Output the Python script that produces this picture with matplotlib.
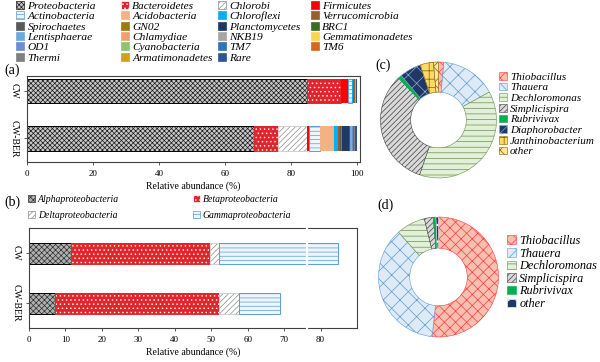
import matplotlib
matplotlib.use('Agg')
import matplotlib.pyplot as plt
from matplotlib.patches import Patch
import numpy as np

plt.rcParams['font.family'] = ['Liberation Serif', 'DejaVu Serif']
plt.rcParams['hatch.linewidth'] = 0.5

# ---- data ----
samples = ['CW', 'CW-BER']

phyla = ['Proteobacteria', 'Bacteroidetes', 'Chlorobi', 'Firmicutes',
         'Actinobacteria', 'Acidobacteria', 'Chloroflexi', 'Verrucomicrobia',
         'Spirochaetes', 'GN02', 'Planctomycetes', 'BRC1',
         'Lentisphaerae', 'Chlamydiae', 'NKB19', 'Gemmatimonadetes',
         'OD1', 'Cyanobacteria', 'TM7', 'TM6',
         'Thermi', 'Armatimonadetes', 'Rare']
phyla_cw = [84.8, 10.3, 0.2, 2.0, 1.3, 0.1, 0.1, 0.6,
            0.05, 0.02, 0.1, 0.02, 0.02, 0.02, 0.02, 0.02,
            0.02, 0.02, 0.02, 0.02, 0.02, 0.02, 0.21]
phyla_ber = [69.0, 7.0, 8.8, 0.6, 3.4, 4.2, 1.2, 0.8,
             0.3, 0.2, 2.2, 0.2, 0.3, 0.1, 0.3, 0.1,
             0.2, 0.1, 0.2, 0.1, 0.1, 0.1, 0.5]

classes = ['Alphaproteobacteria', 'Betaproteobacteria',
           'Deltaproteobacteria', 'Gammaproteobacteria']
classes_cw = [11.4, 38.4, 2.3, 32.8]
classes_ber = [7.1, 44.9, 5.5, 11.5]

genera_c = ['Thiobacillus', 'Thauera', 'Dechloromonas', 'Simplicispira',
            'Rubrivivax', 'Diaphorobacter', 'Janthinobacterium', 'other']
share_c = [1.5, 15.5, 38.3, 32.6, 1.0, 6.0, 3.7, 1.4]

genera_d = ['Thiobacillus', 'Thauera', 'Dechloromonas', 'Simplicispira',
            'Rubrivivax', 'other']
share_d = [51.7, 36.7, 7.8, 2.4, 0.7, 0.7]

# ---- styles: (face, hatch, hatch colour, edge colour) ----
st_phyla = {
    'Proteobacteria': ('#c8c8c8', 'xxxxxxx', '#1a1a1a', '#000000'),
    'Bacteroidetes': ('#e0262c', '....', 'white', '#e0262c'),
    'Chlorobi': ('#ffffff', '//////', '#8c8c8c', '#d0d0d0'),
    'Firmicutes': ('#ff0000', None, None, None),
    'Actinobacteria': ('#eef5fc', '----', '#5b9bd5', '#5b9bd5'),
    'Acidobacteria': ('#f4b183', None, None, None),
    'Chloroflexi': ('#00b0f0', None, None, None),
    'Verrucomicrobia': ('#9c5b2a', None, None, None),
    'Spirochaetes': ('#595959', None, None, None),
    'GN02': ('#9c7a12', None, None, None),
    'Planctomycetes': ('#1f3864', None, None, None),
    'BRC1': ('#3b6e22', None, None, None),
    'Lentisphaerae': ('#6fa8dc', None, None, None),
    'Chlamydiae': ('#f0a070', None, None, None),
    'NKB19': ('#a6a6a6', None, None, None),
    'Gemmatimonadetes': ('#ffd34d', None, None, None),
    'OD1': ('#6a8fd0', None, None, None),
    'Cyanobacteria': ('#8fc46f', None, None, None),
    'TM7': ('#2e75b6', None, None, None),
    'TM6': ('#d2691e', None, None, None),
    'Thermi': ('#7f7f7f', None, None, None),
    'Armatimonadetes': ('#d4a017', None, None, None),
    'Rare': ('#2f5597', None, None, None),
}
st_classes = {
    'Alphaproteobacteria': ('#b0b0b0', 'xxxxxx', '#303030', '#000000'),
    'Betaproteobacteria': ('#e0262c', '....', 'white', '#e0262c'),
    'Deltaproteobacteria': ('#ffffff', '//////', '#8c8c8c', '#d0d0d0'),
    'Gammaproteobacteria': ('#eef5fc', '----', '#5b9bd5', '#5b9bd5'),
}
st_gen = {
    'Thiobacillus': ('#f8c0b0', 'xxx', '#ff3b3b'),
    'Thauera': ('#deebf7', 'xx', '#5b9bd5'),
    'Dechloromonas': ('#e2f0d9', '---', '#6b8e4e'),
    'Simplicispira': ('#d9d9d9', '//////', '#404040'),
    'Rubrivivax': ('#00b050', None, '#00b050'),
    'Diaphorobacter': ('#1f3864', 'xx', '#8ea9db'),
    'Janthinobacterium': ('#ffd966', '++', '#7f6000'),
    'other': ('#ffe699', 'xx', '#7f6000'),
}
st_other_d = ('#1f3864', '..', '#ffffff')


def hbar(ax, y, w, left, h, style):
    face, hatch, hcol, edge = style
    ax.barh(y, w, left=left, height=h, color=face, hatch=hatch,
            edgecolor=hcol if hatch else face, linewidth=0)
    if edge:
        ax.barh(y, w, left=left, height=h, color='none', edgecolor=edge,
                linewidth=0.7)


def handle(style):
    face, hatch, hcol, edge = style
    return Patch(facecolor=face, hatch=hatch,
                 edgecolor=(hcol if hatch else face), linewidth=0.5)


fig = plt.figure(figsize=(6, 3.62), dpi=100)
ypos = [1, 0]


def frame(ax):
    for s in ax.spines.values():
        s.set_color('#404040')
        s.set_linewidth(0.8)
    ax.tick_params(labelsize=6.5, length=2.5, width=0.6, color='#404040')
    ax.set_yticks(ypos)
    ax.set_yticklabels(samples, rotation=270, va='center', fontsize=7)
    ax.set_xlabel('Relative abundance (%)', fontsize=7, labelpad=2.5)


# ---- (a) phyla ----
axa = fig.add_axes([27 / 600, 1 - 162 / 362, 333 / 600, 86 / 362])
for y, vals in zip(ypos, [phyla_cw, phyla_ber]):
    left = 0
    for name, v in zip(phyla, vals):
        hbar(axa, y, v, left, 0.52, st_phyla[name])
        left += v
axa.set_xlim(0, 101)
axa.set_ylim(-0.5, 1.32)
axa.set_xticks([0, 20, 40, 60, 80, 100])
frame(axa)

# legend of (a), four columns
cols_x = [16, 121, 218, 311]
order = [phyla[i::4] for i in range(4)]
for cx, names in zip(cols_x, order):
    fig.legend([handle(st_phyla[n]) for n in names], names,
               loc='upper left', bbox_to_anchor=(cx / 600, 1 - 1 / 362),
               frameon=False, prop={'style': 'italic', 'size': 8.2},
               handlelength=0.7, handleheight=0.7, handletextpad=0.3,
               labelspacing=0.03, borderpad=0, borderaxespad=0)

# ---- (b) proteobacteria classes ----
axb = fig.add_axes([29 / 600, 1 - 328 / 362, 328 / 600, 100 / 362])
for y, vals in zip(ypos, [classes_cw, classes_ber]):
    left = 0
    for name, v in zip(classes, vals):
        hbar(axb, y, v, left, 0.42, st_classes[name])
        left += v
axb.set_xlim(0, 90)
axb.set_ylim(-0.5, 1.5)
axb.set_xticks(np.arange(0, 90, 10))
frame(axb)
axb.axvline(76.2, ymin=-0.03, ymax=1.03, color='white', lw=1.6,
            clip_on=False, zorder=10)

for cx, names in zip([28, 193], [classes[0::2], classes[1::2]]):
    fig.legend([handle(st_classes[n]) for n in names], names,
               loc='upper left', bbox_to_anchor=(cx / 600, 1 - 195 / 362),
               frameon=False, prop={'style': 'italic', 'size': 7},
               handlelength=0.7, handleheight=0.7, handletextpad=0.3,
               labelspacing=0.75, borderpad=0, borderaxespad=0)


# ---- (c), (d) genera doughnuts ----
def donut(rect, names, vals, styles):
    ax = fig.add_axes(rect)
    wedges, _ = ax.pie(vals, startangle=90, counterclock=False, radius=1,
                       wedgeprops=dict(width=0.52, linewidth=0.4))
    for w, n in zip(wedges, names):
        face, hatch, hcol = styles[n]
        w.set_facecolor(face)
        w.set_hatch(hatch)
        w.set_edgecolor(hcol)
    ax.set_xlim(-1, 1)
    ax.set_ylim(-1, 1)
    ax.set_aspect('equal')
    return ax, wedges


axc, wc = donut([380.5 / 600, 1 - 178 / 362, 116 / 600, 116 / 362],
                genera_c, share_c, st_gen)
fig.legend(wc, genera_c, loc='upper left',
           bbox_to_anchor=(499 / 600, 1 - 72 / 362), frameon=False,
           prop={'style': 'italic', 'size': 8.0}, handlelength=0.7,
           handleheight=0.7, handletextpad=0.3, labelspacing=0.08,
           borderpad=0, borderaxespad=0)

st_d = dict(st_gen)
st_d['other'] = st_other_d
axd, wd = donut([378.5 / 600, 1 - 337 / 362, 120 / 600, 120 / 362],
                genera_d, share_d, st_d)
fig.legend(wd, genera_d, loc='upper left',
           bbox_to_anchor=(507 / 600, 1 - 235 / 362), frameon=False,
           prop={'style': 'italic', 'size': 8.8}, handlelength=0.7,
           handleheight=0.7, handletextpad=0.3, labelspacing=0.05,
           borderpad=0, borderaxespad=0)

# panel letters
fig.text(4 / 600, 1 - 70 / 362, '(a)', fontsize=10, va='center')
fig.text(4 / 600, 1 - 202 / 362, '(b)', fontsize=10, va='center')
fig.text(375 / 600, 1 - 65 / 362, '(c)', fontsize=10, va='center')
fig.text(377 / 600, 1 - 205 / 362, '(d)', fontsize=10, va='center')

fig.savefig('out.png', dpi=100)
